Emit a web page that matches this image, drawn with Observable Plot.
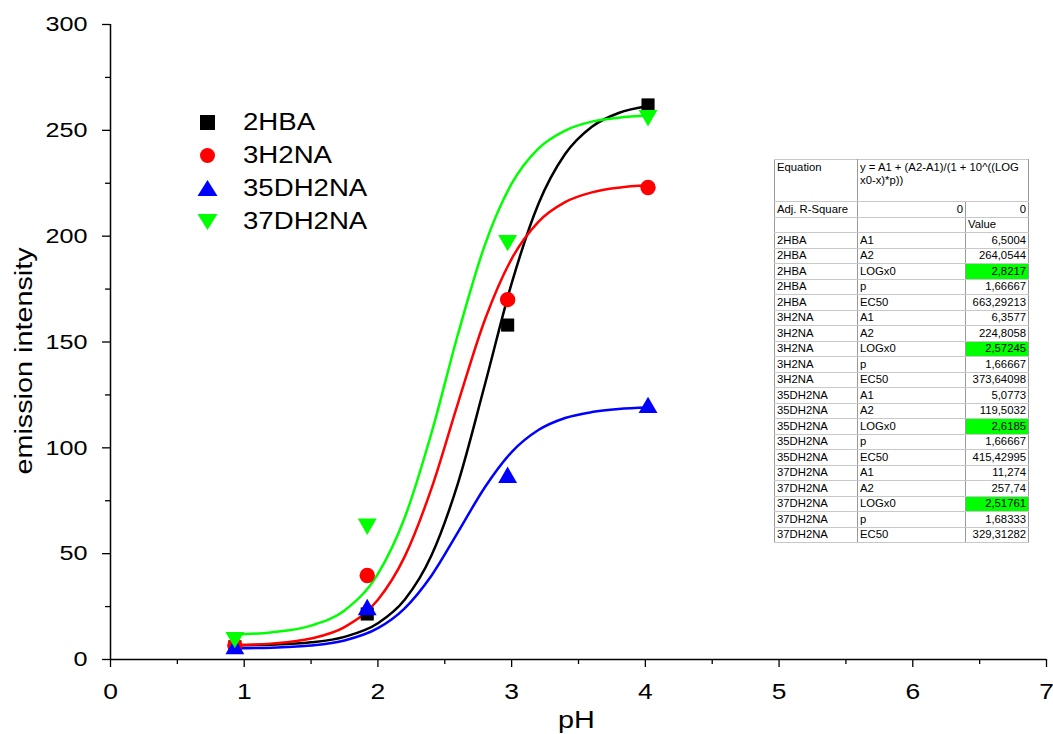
<!DOCTYPE html>
<html>
<head>
<meta charset="utf-8">
<script src="https://cdn.jsdelivr.net/npm/d3@7"></script>
<script src="https://cdn.jsdelivr.net/npm/@observablehq/plot@0.6"></script>
<style>
  body { margin: 0; background: #fff; font-family: "Liberation Sans", Arial, sans-serif; }
  #wrap { position: relative; width: 1053px; height: 734px; }
  #legend { position: absolute; left: 190px; top: 106px; font-size: 23px; color: #000; }
  #legend .row { height: 33px; display: flex; align-items: center; }
  #legend svg { width: 36px; height: 30px; margin-right: 17px; }
  #legend span { display: inline-block; transform: scaleX(1.2); transform-origin: left center; }
  #tbl { position: absolute; left: 774px; top: 159px; border-collapse: collapse; table-layout: fixed;
         font-size: 11.3px; color: #000; border: 1.5px solid #666; background: #fff; }
  #tbl td { height: 14.5px; padding: 0 2px; border-top: 1px solid #c8c8c8; border-bottom: 1px solid #c8c8c8;
            border-left: 1px solid #999; border-right: 1px solid #999; white-space: nowrap; line-height: 13px; overflow: hidden; }
  #tbl td.num { text-align: right; }
  #tbl td.hl { background: #00ff00; }
  #tbl tr.eq td { height: 40px; vertical-align: top; white-space: normal; padding-top: 1px; }
</style>
</head>
<body>
<div id="wrap"><div id="chart"></div><div id="legend"></div><table id="tbl"></table></div>
<script>
// Measured points
const pH = [0.93, 1.92, 2.97, 4.02];
const y2HBA = [6, 21.5, 158, 262];
const y3H2NA = [6.6, 39.7, 170, 223];
const y35DH2NA = [5, 23.5, 86, 119];
const y37DH2NA = [10.4, 64, 198, 257];

// Fitted curves
const curveX = [0.93, 1.2, 1.5, 1.75, 2.0, 2.2, 2.4, 2.6, 2.8, 3.0, 3.2, 3.4, 3.6, 3.8, 4.02];
const fit2HBA = [6.7, 7.0, 8.1, 10.7, 17.1, 28.2, 49.1, 83.6, 129.9, 177.7, 215.2, 238.8, 251.7, 258.2, 261.5];
const fit3H2NA = [6.8, 7.5, 9.9, 15.3, 28.2, 48.6, 80.7, 121.4, 160.5, 189.3, 206.8, 216.1, 220.7, 222.9, 224.0];
const fit35DH2NA = [5.3, 5.6, 6.6, 9.0, 14.8, 24.2, 39.6, 60.3, 81.4, 98.0, 108.4, 114.1, 116.9, 118.3, 119.0];
const fit37DH2NA = [11.8, 12.8, 16.0, 23.2, 40.5, 67.0, 106.9, 154.0, 195.9, 224.8, 241.4, 249.9, 254.1, 256.0, 257.0];

const seriesNames = ["2HBA", "3H2NA", "35DH2NA", "37DH2NA"];
const xTicks = [0, 1, 2, 3, 4, 5, 6, 7];
const xMinor = [0.5, 1.5, 2.5, 3.5, 4.5, 5.5, 6.5];
const yTicks = [0, 50, 100, 150, 200, 250, 300];
const yMinor = [25, 75, 125, 175, 225, 275];
const xLabel = "pH";
const yLabel = "emission intensity";

// Fit-parameter table
const tblSeries = ["2HBA","2HBA","2HBA","2HBA","2HBA","3H2NA","3H2NA","3H2NA","3H2NA","3H2NA",
  "35DH2NA","35DH2NA","35DH2NA","35DH2NA","35DH2NA","37DH2NA","37DH2NA","37DH2NA","37DH2NA","37DH2NA"];
const tblParam = ["A1","A2","LOGx0","p","EC50","A1","A2","LOGx0","p","EC50","A1","A2","LOGx0","p","EC50","A1","A2","LOGx0","p","EC50"];
const tblValue = ["6,5004","264,0544","2,8217","1,66667","663,29213","6,3577","224,8058","2,57245","1,66667","373,64098",
  "5,0773","119,5032","2,6185","1,66667","415,42995","11,274","257,74","2,51761","1,68333","329,31282"];
const equationText = "y = A1 + (A2-A1)/(1 + 10^((LOG x0-x)*p))";

const points = [y2HBA, y3H2NA, y35DH2NA, y37DH2NA];
const fits = [fit2HBA, fit3H2NA, fit35DH2NA, fit37DH2NA];
const style = [
  {color: "#000000", symbol: "square", r: 7.4, rotate: 0},
  {color: "#ff0000", symbol: "circle", r: 7.7, rotate: 0},
  {color: "#0000ff", symbol: "triangle", r: 7, rotate: 0},
  {color: "#00ff00", symbol: "triangle", r: 7, rotate: 180}
];

const lineMarks = fits.map((f, i) => Plot.line(curveX.map((x, j) => ({x, y: f[j]})),
  {x: "x", y: "y", stroke: style[i].color, strokeWidth: 2.5, curve: "monotone-x"}));
const dotMarks = points.map((p, i) => Plot.dot(pH.map((x, j) => ({x, y: p[j]})),
  {x: "x", y: "y", fill: style[i].color, symbol: style[i].symbol, r: style[i].r, rotate: style[i].rotate, stroke: "none"}));

const chart = Plot.plot({
  width: 1053, height: 734,
  marginLeft: 110, marginRight: 7, marginTop: 24, marginBottom: 75,
  style: {fontFamily: "'Liberation Sans', Arial, sans-serif", fontSize: "20px", color: "#000", background: "#fff", overflow: "visible"},
  x: {domain: [0, 7]},
  y: {domain: [0, 300]},
  marks: [
    Plot.axisX({ticks: xTicks, tickSize: 8, tickPadding: 16, strokeWidth: 1.3, fontSize: 22, label: null, tickFormat: d => String(d)}),
    Plot.axisX({ticks: xMinor, tickSize: 5, strokeWidth: 1.3, text: null, label: null}),
    Plot.axisY({ticks: yTicks, tickSize: 8, tickPadding: 15, strokeWidth: 1.3, fontSize: 21, label: null, tickFormat: d => String(d)}),
    Plot.axisY({ticks: yMinor, tickSize: 5, strokeWidth: 1.3, text: null, label: null}),
    Plot.text([xLabel], {frameAnchor: "bottom", dx: -2, dy: 61, lineAnchor: "middle", textAnchor: "middle", fontSize: 24}),
    Plot.text([yLabel], {frameAnchor: "left", dx: -86, dy: 19, rotate: -90, lineAnchor: "middle", textAnchor: "middle", fontSize: 24}),
    Plot.ruleX([0], {stroke: "#000", strokeWidth: 1.5}),
    Plot.ruleY([0], {stroke: "#000", strokeWidth: 1.5}),
    ...lineMarks,
    ...dotMarks
  ]
});
// horizontally widen all text glyphs (reference typography is stretched)
chart.querySelectorAll("text").forEach(t => {
  const ax = parseFloat(t.getAttribute("x") || 0), ay = parseFloat(t.getAttribute("y") || 0);
  const tr = t.getAttribute("transform") || "";
  t.setAttribute("transform", `${tr} translate(${ax},${ay}) scale(1.2,1) translate(${-ax},${-ay})`);
});
document.getElementById("chart").appendChild(chart);

// Legend
const legend = document.getElementById("legend");
const symPaths = {
  square: '<rect x="10" y="7" width="15" height="15" />',
  circle: '<circle cx="17.5" cy="14.5" r="7.5" />',
  triangle: '<path d="M17.5 6 L27.5 22 L7.5 22 Z" />',
  triangleDown: '<path d="M17.5 23 L27.5 7 L7.5 7 Z" />'
};
seriesNames.forEach((name, i) => {
  const s = style[i];
  const key = s.symbol === "triangle" && s.rotate ? "triangleDown" : s.symbol;
  const row = document.createElement("div");
  row.className = "row";
  row.innerHTML = `<svg viewBox="0 0 36 30"><g fill="${s.color}">${symPaths[key]}</g></svg><span>${name}</span>`;
  legend.appendChild(row);
});

// Table
const tbl = document.getElementById("tbl");
let html = '<colgroup><col style="width:83px"><col style="width:108px"><col style="width:63px"></colgroup>';
html += `<tr class="eq"><td>Equation</td><td colspan="2">${equationText.replace("(LOG ", "(LOG<br>")}</td></tr>`;
html += '<tr><td>Adj. R-Square</td><td class="num">0</td><td class="num">0</td></tr>';
html += '<tr><td></td><td></td><td>Value</td></tr>';
tblSeries.forEach((s, i) => {
  const hl = tblParam[i] === "LOGx0" ? " hl" : "";
  html += `<tr><td>${s}</td><td>${tblParam[i]}</td><td class="num${hl}">${tblValue[i]}</td></tr>`;
});
tbl.innerHTML = html;
</script>
</body>
</html>
